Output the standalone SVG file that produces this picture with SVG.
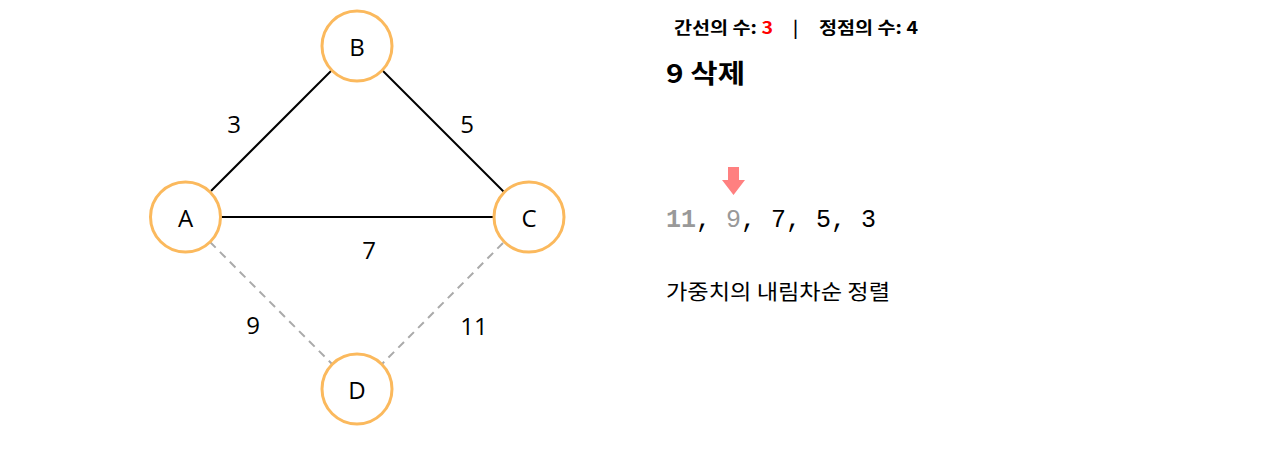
<svg xmlns="http://www.w3.org/2000/svg" width="1277" height="452" viewBox="0 0 1277 452">
<style>
.node circle{fill:#fff;stroke:#fbb95d;stroke-width:3}
.node text{font-family:"Open Sans","Noto Sans",sans-serif;font-size:24px;fill:#000;text-anchor:middle;dominant-baseline:central}
.solid{stroke:#000;stroke-width:2}
.dash{stroke:#aaa;stroke-width:2;stroke-dasharray:8,6}
.w{font-family:"Open Sans","Noto Sans",sans-serif;font-size:24px;fill:#000;text-anchor:middle;dominant-baseline:central}
.kr{font-family:"Noto Sans CJK KR","Noto Sans",sans-serif}
.mono{font-family:"Liberation Mono","DejaVu Sans Mono",monospace;font-size:25px}
</style>
<rect width="1277" height="452" fill="#fff"/>
<g id="connectors">
<line class="solid" x1="211" y1="191" x2="332" y2="70"/>
<line class="solid" x1="382" y1="70" x2="504" y2="192"/>
<line class="solid" x1="220" y1="217" x2="494" y2="217"/>
<line class="dash" x1="210" y1="242" x2="332" y2="364"/>
<line class="dash" x1="503" y1="243" x2="382" y2="364"/>
<text class="w" x="234" y="123">3</text>
<text class="w" x="467" y="123">5</text>
<text class="w" x="369" y="249">7</text>
<text class="w" x="253" y="324">9</text>
<text class="w" x="474" y="325">11</text>
</g>
<g id="node-B" class="node"><circle cx="357" cy="46" r="35"/><text x="357" y="46">B</text></g>
<g id="node-A" class="node"><circle cx="185.5" cy="217" r="35"/><text x="185.5" y="217">A</text></g>
<g id="node-C" class="node"><circle cx="529" cy="217" r="35"/><text x="529" y="217">C</text></g>
<g id="node-D" class="node"><circle cx="357" cy="389" r="35"/><text x="357" y="389">D</text></g>
<g id="info">
<text class="kr" x="674" y="34" font-size="17" font-weight="bold" fill="#000" textLength="99" lengthAdjust="spacingAndGlyphs">간선의 수: <tspan fill="#ff0000">3</tspan></text>
<text class="kr" x="793" y="34" font-size="17" font-weight="bold" fill="#000">|</text>
<text class="kr" x="819" y="34" font-size="17" font-weight="bold" fill="#000" textLength="99" lengthAdjust="spacingAndGlyphs">정점의 수: 4</text>
<text class="kr" x="666" y="83" font-size="26" font-weight="bold" fill="#000" textLength="79" lengthAdjust="spacingAndGlyphs">9 삭제</text>
<path d="M728,167 H739 V180 H745 L733.5,195 L722,180 H728 Z" fill="#ff8080"/>
<text class="mono" x="666" y="227" fill="#000"><tspan fill="#999" font-weight="bold">11</tspan>, <tspan fill="#999">9</tspan>, 7, 5, 3</text>
<text class="kr" x="666" y="299" font-size="21" fill="#000" textLength="224" lengthAdjust="spacingAndGlyphs">가중치의 내림차순 정렬</text>
</g>
</svg>
